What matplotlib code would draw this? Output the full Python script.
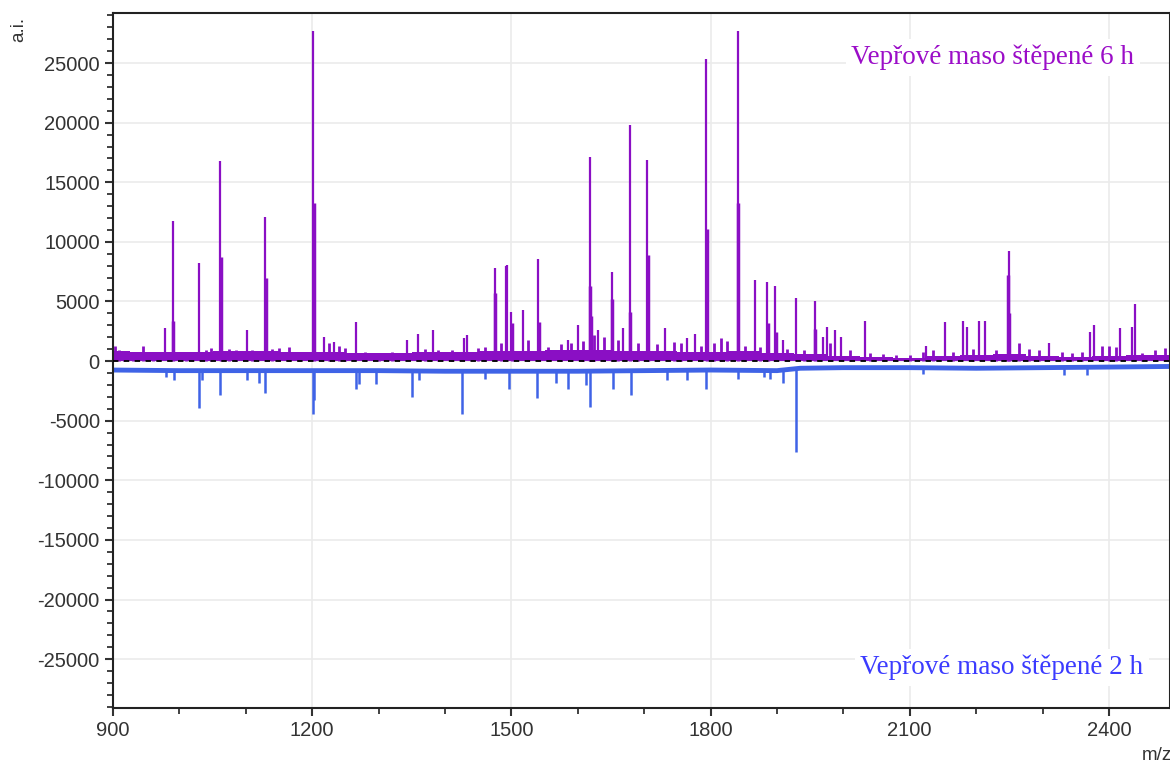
import numpy as np
import matplotlib
matplotlib.use("Agg")
import matplotlib.pyplot as plt
from matplotlib.ticker import MultipleLocator

plt.rcParams['font.family'] = ['Liberation Sans', 'DejaVu Sans']
plt.rcParams['axes.unicode_minus'] = False

# --- data (m/z, intensity a.i.) ---
# 6 h digest (purple, positive)
mz_6h = [978, 990, 1029, 1061, 1102, 1129, 1201, 1218, 1233, 1266, 1343, 1359, 1382,
         1428, 1433, 1475, 1492, 1494, 1500, 1517, 1540, 1585, 1600, 1618, 1630, 1651,
         1668, 1678, 1705, 1731, 1765, 1776, 1793, 1841, 1867, 1885, 1897, 1909, 1928,
         1957, 1969, 1976, 1988, 1997, 2032, 2125, 2153, 2180, 2186, 2205, 2214, 2249,
         2309, 2372, 2377, 2417, 2435, 2440]
int_6h = [2770, 11750, 8200, 16800, 2600, 12100, 27700, 2000, 1600, 3300, 1750, 2300, 2600,
          1900, 2200, 7800, 8000, 8100, 4100, 4300, 8600, 1750, 3000, 17100, 2600, 7500,
          2800, 19800, 16900, 2800, 1900, 2300, 25300, 27700, 6800, 6600, 6300, 1750, 5300,
          5000, 2000, 2900, 2600, 2000, 3400, 1300, 3300, 3400, 2900, 3400, 3400, 9200,
          1500, 2400, 3000, 2800, 2900, 4800]
# shoulders / isotope peaks next to the big ones
mz_6h_sh = [991, 1062, 1130, 1202, 1476, 1501, 1541, 1619, 1620, 1652, 1679, 1706,
            1794, 1842, 1886, 1898, 1958, 2248, 2250]
int_6h_sh = [3400, 8700, 7000, 13300, 5700, 3200, 3300, 6300, 3800, 5200, 4100, 8900,
             11100, 13300, 3200, 2400, 2700, 7200, 4000]
# small peaks in the noise
mz_6h_small = [903, 909, 916, 930, 945, 960, 970, 1010, 1040, 1048, 1075, 1085, 1110,
               1140, 1150, 1165, 1180, 1225, 1240, 1250, 1280, 1300, 1320, 1370, 1390,
               1410, 1450, 1460, 1485, 1525, 1555, 1575, 1590, 1608, 1625, 1640, 1660,
               1690, 1720, 1745, 1755, 1785, 1805, 1815, 1825, 1852, 1875, 1915, 1940,
               1980, 2010, 2040, 2060, 2080, 2100, 2120, 2135, 2165, 2195, 2230, 2265,
               2280, 2295, 2330, 2345, 2360, 2390, 2400, 2410, 2450, 2470, 2485]
int_6h_small = [1300, 900, 700, 600, 1250, 700, 800, 800, 900, 1100, 1000, 900, 900,
                1000, 1100, 1200, 800, 1500, 1300, 1100, 800, 700, 800, 1000, 900,
                900, 1100, 1200, 1500, 1800, 1200, 1400, 1500, 1700, 2200, 2000, 1800,
                1500, 1400, 1600, 1500, 1300, 1500, 1900, 1700, 1300, 1200, 1000, 900,
                1500, 900, 700, 600, 500, 500, 800, 900, 800, 1000, 900, 1500,
                1000, 900, 800, 700, 800, 1300, 1300, 1200, 700, 900, 1100]
# noise band level
band_mz = [900, 950, 1000, 1100, 1200, 1300, 1400, 1500, 1600, 1700, 1800, 1850, 1900,
           1950, 2000, 2050, 2100, 2150, 2200, 2250, 2300, 2350, 2400, 2450, 2492]
band_6h = [850, 750, 800, 850, 800, 700, 750, 850, 950, 850, 800, 850, 700,
           600, 450, 350, 300, 400, 550, 600, 400, 350, 450, 550, 500]

# 2 h digest (blue, drawn negative)
base_mz = [900, 1000, 1100, 1200, 1300, 1400, 1500, 1600, 1700, 1800, 1900, 1935,
           2000, 2100, 2200, 2300, 2400, 2492]
base_2h = [-750, -800, -800, -800, -800, -850, -850, -850, -800, -750, -800, -600,
           -550, -550, -600, -550, -500, -450]
mz_2h = [980, 992, 1029, 1034, 1061, 1102, 1120, 1129, 1201, 1203, 1266, 1271, 1296,
         1350, 1361, 1425, 1461, 1496, 1538, 1567, 1585, 1612, 1618, 1653, 1680, 1734,
         1765, 1793, 1841, 1880, 1890, 1909, 1928, 2120, 2333, 2367]
int_2h = [-1340, -1600, -3950, -1600, -2850, -1600, -1850, -2700, -4400, -3300, -2300,
          -1900, -1950, -3000, -1600, -4400, -1500, -2300, -3100, -1850, -2300, -2000,
          -3850, -2300, -2850, -1550, -1600, -2300, -1500, -1300, -1500, -1850, -7650,
          -1100, -1200, -1200]

label_6h = "Vepřové maso štěpené 6 h"
label_2h = "Vepřové maso štěpené 2 h"

col_6h = "#8a0fc4"
col_2h = "#3f63e6"

fig = plt.figure(figsize=(11.7, 7.65), dpi=100)
ax = fig.add_axes([0.0966, 0.0745, 0.9034, 0.9085])

ax.grid(True, color="#ebebeb", lw=1.2, zorder=0)

# purple spectrum
ax.fill_between(band_mz, 0, band_6h, step="mid", color=col_6h, lw=0, zorder=2)
ax.vlines(mz_6h_small, 0, int_6h_small, color=col_6h, lw=2.0, zorder=2)
ax.vlines(mz_6h_sh, 0, int_6h_sh, color=col_6h, lw=2.5, zorder=2)
ax.vlines(mz_6h, 0, int_6h, color=col_6h, lw=1.6, zorder=2)

# blue spectrum
ax.plot(base_mz, base_2h, color=col_2h, lw=3.5, zorder=2)
ax.vlines(mz_2h, np.interp(mz_2h, base_mz, base_2h), int_2h, color=col_2h, lw=1.8, zorder=2)

ax.axhline(0, color="black", ls=(0, (3, 3)), lw=1.3, zorder=3)

ax.set_xlim(900, 2492)
ax.set_ylim(-29100, 29200)
ax.xaxis.set_major_locator(MultipleLocator(300))
ax.xaxis.set_minor_locator(MultipleLocator(100))
ax.yaxis.set_major_locator(MultipleLocator(5000))
ax.yaxis.set_minor_locator(MultipleLocator(1000))
ax.tick_params(which="major", direction="out", length=6, width=1.5, labelsize=14.5,
               labelcolor="#333333", color="#333333")
ax.tick_params(which="minor", direction="out", length=4, width=1.3, color="#333333")
for s in ax.spines.values():
    s.set_linewidth(1.5)
    s.set_color("#222222")

fig.text(0.016, 0.962, "a.i.", rotation=90, fontsize=13.5, color="#333333",
         ha="center", va="center")
fig.text(0.976, 0.012, "m/z", fontsize=13.5, color="#333333", ha="left", va="center")

ax.text(0.8325, 0.936, label_6h, transform=ax.transAxes, fontsize=19.5, color="#9b0dc8",
        family="Liberation Serif", ha="center", va="center", zorder=5,
        bbox=dict(facecolor="white", edgecolor="none", pad=4))
ax.text(0.841, 0.058, label_2h, transform=ax.transAxes, fontsize=19.5, color="#3b3bff",
        family="Liberation Serif", ha="center", va="center", zorder=5,
        bbox=dict(facecolor="white", edgecolor="none", pad=4))

fig.savefig("out.png", dpi=100)
